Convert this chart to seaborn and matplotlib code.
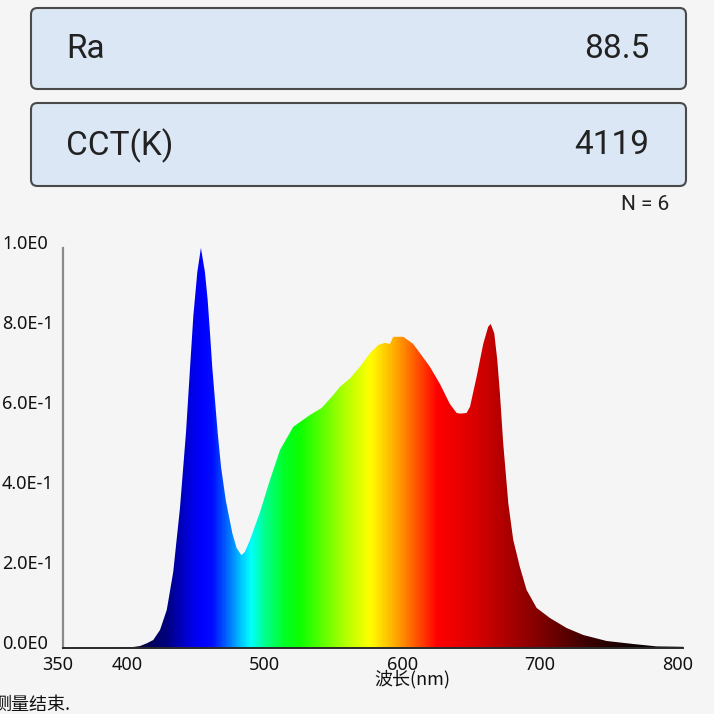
import numpy as np
import matplotlib
matplotlib.use("Agg")
import matplotlib.pyplot as plt
import seaborn as sns
from matplotlib.patches import FancyBboxPatch
from matplotlib.colors import LinearSegmentedColormap
from matplotlib.transforms import ScaledTranslation

# ---------------- data ----------------
wavelength = [350, 380, 400, 406, 411, 415.5, 420.4, 425.3, 430.0, 434.9, 439.3, 442.2,
              444.6, 447.5, 450.1, 453.0, 455.0, 456.7, 458.3, 460.3, 462.3, 464.7, 468.1,
              472.9, 476.0, 479.5, 482.0, 485.7, 493.0, 500.2, 507.5, 517.1, 529.2, 537.7,
              546.2, 551.0, 558.3, 565.5, 572.8, 578.8, 583.7, 587.3, 589.7, 597.0, 604.2,
              609.1, 616.3, 623.6, 630.8, 635.7, 638.5, 642.9, 645.4, 650.2, 655.0, 658.6,
              660.4, 663.0, 665.2, 667.1, 669.5, 673.2, 676.8, 681.6, 686.5, 693.8, 703.4,
              715.5, 727.6, 744.6, 763.9, 780.8, 800]
intensity = [0.0, 0.0, 0.002, 0.005, 0.012, 0.02, 0.045, 0.095, 0.19, 0.35, 0.54, 0.70,
             0.83, 0.94, 1.0, 0.94, 0.87, 0.787, 0.703, 0.62, 0.537, 0.453, 0.37,
             0.287, 0.25, 0.232, 0.24, 0.27, 0.34, 0.42, 0.495, 0.553, 0.5825, 0.60,
             0.6325, 0.653, 0.674, 0.703, 0.737, 0.7575, 0.763, 0.76, 0.778, 0.778, 0.76,
             0.737, 0.703, 0.66, 0.61, 0.5875, 0.586, 0.5875, 0.603, 0.678, 0.76, 0.803,
             0.81, 0.787, 0.72, 0.637, 0.512, 0.362, 0.27, 0.2025, 0.145, 0.10, 0.075,
             0.05, 0.0325, 0.0175, 0.01, 0.004, 0.003]

x_ticks = [350, 400, 500, 600, 700, 800]
y_ticks = [0.0, 0.2, 0.4, 0.6, 0.8, 1.0]
y_tick_labels = ["0.0E0", "2.0E-1", "4.0E-1", "6.0E-1", "8.0E-1", "1.0E0"]

panel_labels = ["Ra", "CCT(K)"]
panel_values = ["88.5", "4119"]
count_text = "N = 6"
x_label = "波长(nm)"
status_text = "测量结束."

# ---------------- style ----------------
sns.set_theme(style="white")
plt.rcParams['font.family'] = ['Noto Sans', 'Noto Sans CJK SC', 'DejaVu Sans']
BG = "#f5f5f5"

W = H = 714
fig = plt.figure(figsize=(7.14, 7.14), dpi=100, facecolor=BG)

def fx(px):
    return px / W

def fy(py):
    return 1 - py / H

# header panels
boxes = [(8, 89), (103, 186)]
for (top, bot), lab, val in zip(boxes, panel_labels, panel_values):
    p = FancyBboxPatch((fx(31), fy(bot)), fx(686) - fx(31), fy(top) - fy(bot),
                       boxstyle="round,pad=0,rounding_size=0.009",
                       transform=fig.transFigure, facecolor="#dce7f5",
                       edgecolor="#4a4a4a", linewidth=1.5, zorder=1)
    fig.patches.append(p)
    yc = fy((top + bot) / 2 + 1)
    fig.text(fx(66), yc, lab, ha="left", va="center", fontsize=24,
             family=["Roboto", "DejaVu Sans"], color="#222222")
    fig.text(fx(649), yc, val, ha="right", va="center", fontsize=24,
             family=["Roboto", "DejaVu Sans"], color="#222222")

fig.text(fx(669), fy(204), count_text, ha="right", va="center", fontsize=15,
         family=["Roboto", "DejaVu Sans"], color="#222222")

# ---------------- spectrum axes ----------------
ax = fig.add_axes([fx(63), 1 - 648 / H, (683 - 63) / W, 400 / H])
ax.set_facecolor(BG)

sns.lineplot(x=wavelength, y=intensity, ax=ax, linewidth=0, color="k")
poly = ax.fill_between(wavelength, intensity, 0, facecolor="none", edgecolor="none")

stops = [(350, (0, 0, 0)), (395, (0, 0, 0.12)), (410, (0.02, 0.02, 0.32)),
         (425, (0, 0, 0.5)), (440, (0, 0, 0.85)), (450, (0, 0, 1)), (458, (0, 0.05, 1)),
         (470, (0, 0.45, 1)), (478, (0, 0.75, 1)), (486, (0, 1, 1)), (495, (0, 1, 0.6)),
         (510, (0, 1, 0.15)), (522, (0.05, 1, 0)), (540, (0.4, 1, 0)), (555, (0.7, 1, 0)),
         (573, (1, 1, 0)), (592, (1, 0.65, 0)), (608, (1, 0.3, 0)), (622, (1, 0, 0)),
         (650, (0.85, 0, 0)), (672, (0.68, 0, 0)), (700, (0.48, 0, 0)), (730, (0.24, 0, 0)),
         (760, (0.08, 0, 0)), (790, (0, 0, 0)), (800, (0, 0, 0))]
cmap = LinearSegmentedColormap.from_list(
    "spec", [((w - 350) / 450, c) for w, c in stops])
grad = np.linspace(0, 1, 900).reshape(1, -1)
img = ax.imshow(grad, cmap=cmap, extent=[350, 800, 0, 1], aspect="auto",
                interpolation="bilinear", zorder=2)
img.set_clip_path(poly.get_paths()[0], transform=ax.transData)

ax.set_xlim(350, 800)
ax.set_ylim(0, 1.0)
ax.set_xticks(x_ticks)
ax.set_yticks(y_ticks)
ax.set_yticklabels(y_tick_labels)
ax.tick_params(axis="both", length=0, labelsize=13, colors="#111111")
ax.tick_params(axis="y", pad=61 * 0.72)
for lbl in ax.get_yticklabels():
    lbl.set_ha("left")
ax.tick_params(axis="x", pad=6)

for s in ["top", "right"]:
    ax.spines[s].set_visible(False)
ax.spines["left"].set_color("#8a8a8a")
ax.spines["left"].set_linewidth(1.6)
ax.spines["bottom"].set_color("#2a2a2a")
ax.spines["bottom"].set_linewidth(1.4)
ax.spines["bottom"].set_zorder(3)

ax.set_xlabel(x_label, fontsize=13, family=["Noto Sans CJK SC", "DejaVu Sans"],
              color="#111111")
ax.set_ylabel("")
ax.xaxis.set_label_coords((412 - 63) / 620, (648 - 679) / 400)
ax.xaxis.label.set_va("center")

fig.canvas.draw()
for lbl in ax.get_yticklabels():
    lbl.set_transform(lbl.get_transform() + ScaledTranslation(0, 6 / 100, fig.dpi_scale_trans))
for lbl in ax.get_xticklabels():
    lbl.set_transform(lbl.get_transform() + ScaledTranslation(-5 / 100, 0, fig.dpi_scale_trans))

fig.text(fx(-7), fy(705), status_text, ha="left", va="center", fontsize=13,
         family=["Noto Sans CJK SC", "DejaVu Sans"], color="#111111")

fig.savefig("out.png", dpi=100, facecolor=BG)
